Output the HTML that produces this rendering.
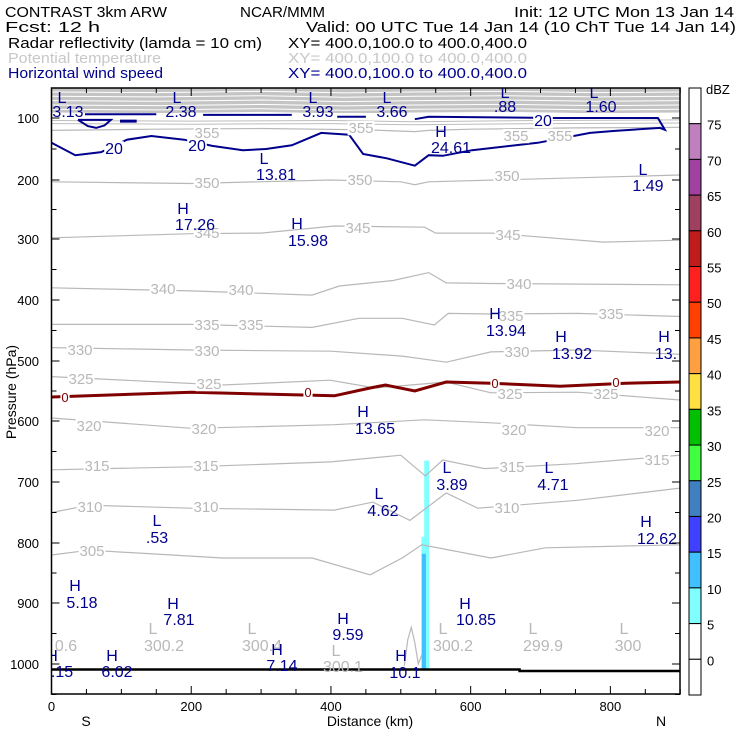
<!DOCTYPE html>
<html><head><meta charset="utf-8"><style>
html,body{margin:0;padding:0;background:#fff;}
svg{display:block;font-family:"Liberation Sans",sans-serif;}
</style></head><body>
<svg id="chart" width="740" height="740" viewBox="0 0 740 740" xmlns="http://www.w3.org/2000/svg">
<g font-size="15">
<text x="5" y="17" textLength="162" lengthAdjust="spacingAndGlyphs">CONTRAST  3km ARW</text>
<text x="240" y="17" textLength="85" lengthAdjust="spacingAndGlyphs">NCAR/MMM</text>
<text x="514" y="17" textLength="220" lengthAdjust="spacingAndGlyphs">Init: 12 UTC Mon 13 Jan 14</text>
<text x="5" y="32" textLength="95" lengthAdjust="spacingAndGlyphs">Fcst:   12 h</text>
<text x="306" y="32" textLength="430" lengthAdjust="spacingAndGlyphs">Valid: 00 UTC Tue 14 Jan 14 (10 ChT Tue 14 Jan 14)</text>
<text x="8" y="48" textLength="254" lengthAdjust="spacingAndGlyphs">Radar reflectivity (lamda = 10 cm)</text>
<text x="288" y="48" textLength="239" lengthAdjust="spacingAndGlyphs">XY= 400.0,100.0 to 400.0,400.0</text>
<text x="8" y="63" fill="#c8c8c8" textLength="153" lengthAdjust="spacingAndGlyphs">Potential temperature</text>
<text x="288" y="63" fill="#c8c8c8" textLength="239" lengthAdjust="spacingAndGlyphs">XY= 400.0,100.0 to 400.0,400.0</text>
<text x="8" y="78" fill="#00008c" textLength="155" lengthAdjust="spacingAndGlyphs">Horizontal wind speed</text>
<text x="288" y="78" fill="#00008c" textLength="239" lengthAdjust="spacingAndGlyphs">XY= 400.0,100.0 to 400.0,400.0</text>
</g>
<g id="plot"></g>
</svg>
<script>
// ---- axis data ----
const xTickKm = [0,200,400,600,800];
const yTickP = [100,200,300,400,500,600,700,800,900,1000];
const yTickPx = [118,180,239,300,361,421,482,543,603,664]; // pressure axis calibration
// ---- potential temperature contours (km, hPa) ----
const thetaLevels = [355,350,345,340,335,330,325,320,315,310,305];
const thetaKm = {
355:[0,150,300,450,520,540,600,750,900],
350:[0,200,400,500,520,540,700,900],
345:[0,200,300,405,534,550,630,790,900],
340:[0,200,373,412,489,540,565,629,900],
335:[0,200,373,440,502,548,568,629,753,900],
330:[0,200,400,502,565,629,753,900],
325:[0,245,399,463,565,629,753,900],
320:[0,200,405,534,629,753,900],
315:[0,200,400,500,535,560,620,750,900],
310:[0,54,200,405,460,513,565,610,753,900],
305:[0,54,245,373,456,502,530,629,707,900]};
const thetaP = {
355:[120,118,117,119,122,120,118,116,115],
350:[203,206,200,203,208,203,198,192],
345:[298,291,290,278,280,290,290,305,302],
340:[380,385,392,377,368,355,372,373,375],
335:[440,440,445,430,430,441,422,423,422,427],
330:[478,482,484,492,502,485,482,489],
325:[526,540,532,545,535,553,552,565],
320:[595,612,606,598,603,611,611],
315:[680,675,667,656,690,664,678,670,656],
310:[750,738,743,746,733,763,718,743,730,710],
305:[820,812,825,825,853,825,803,825,808,803]};
// ---- freezing level (0 C) ----
const frzKm = [0,200,300,405,456,478,520,565,629,728,822,900];
const frzP  = [560,552,555,558,545,540,550,535,537,542,537,535];
// ---- 20 m/s wind speed contour ----
const windKm = [0,34,71,108,143,190,230,274,307,344,386,426,446,480,520,540,560,602,696,771,804,871,878,868,724,540,520];
const windP  = [140,160,155,135,129,135,145,152,150,144,124,127,158,165,177,160,161,152,140,124,121,116,119,100,100,98,102];
const windSegKm = [[48,150],[217,344],[409,450]];
const windSegP = [94,95,98];
// ---- radar reflectivity cells (km, top hPa, bottom hPa, dBZ) ----
const reflKm  = [537,534,533];
const reflW   = [7,9,6];
const reflTop = [665,790,818];
const reflBot = [1010,1010,1010];
const reflDbz = [7,7,12];
// ---- colour bar ----
const cbLevels = [75,70,65,60,55,50,45,40,35,30,25,20,15,10,5,0];
const cbColors = ["#ffffff","#c080c0","#a040a0","#a04060","#c01c1c","#ff2020","#ff4000","#ffa040","#ffe040","#00c000","#40ff40","#4080c0","#4040ff","#40c0ff","#80ffff","#ffffff","#ffffff"];
// ---- H/L labels (text) ----
const hlLabels = [
["L","3.13",62,97,68,111],["L","2.38",177,97,181,111],["L","3.93",313,97,318,111],["L","3.66",387,97,392,111],
["L",".88",505,92,505,106],["L","1.60",594,92,601,106],["H","24.61",441,131,451,147],["L","13.81",264,158,276,174],
["L","1.49",643,169,648,185],["H","17.26",183,208,195,224],["H","15.98",297,223,308,240],["H","13.94",495,313,506,330],
["H","13.92",561,336,572,353],["H","13.",664,336,666,353],["H","13.65",363,411,375,428],["L","3.89",447,467,452,484],
["L","4.71",549,467,553,484],["L","4.62",379,493,383,510],["L",".53",157,520,157,537],["H","12.62",646,521,657,538],
["H","5.18",75,585,82,602],["H","7.81",173,603,179,619],["H","9.59",343,618,348,634],["H","10.85",465,603,476,619],
["H","7.14",277,649,282,665],["H","6.02",112,655,117,671],["H","10.1",401,655,405,672],["H",".15",52,655,62,671]];
const sfcLabels = [["","0.6",0,0,66,645],["L","300.2",153,628,164,645],["L","300.4",252,628,262,645],["L","300.1",336,650,343,666],
["L","300.2",443,628,453,645],["L","299.9",533,628,543,645],["L","300",624,628,628,645]];
const thetaLab = [[355,207,133],[355,361,128],[355,516,136],[355,560,136],[350,207,183],[350,360,180],[350,507,176],
[345,207,233],[345,358,228],[345,508,235],[340,163,289],[340,241,290],[340,519,284],[335,207,325],[335,251,325],[335,511,316],[335,611,314],
[330,80,350],[330,207,351],[330,517,352],[325,81,379],[325,209,384],[325,510,394],[325,606,394],[320,89,426],[320,204,429],[320,514,430],[320,657,431],
[315,97,466],[315,206,466],[315,512,467],[315,657,460],[310,90,507],[310,206,507],[310,507,508],[305,92,551]];

// ---- scales ----
const X0=51.5, KX=0.6986, XL=51.5, XR=680, YT=88, YB=694;
function xs(km){return X0+km*KX;}
function ys(p){
  if(p<=yTickP[0]) return yTickPx[0]+(p-yTickP[0])*0.62;
  for(let i=1;i<yTickP.length;i++){ if(p<=yTickP[i]){const t=(p-yTickP[i-1])/(yTickP[i]-yTickP[i-1]);return yTickPx[i-1]+t*(yTickPx[i]-yTickPx[i-1]);} }
  return yTickPx[yTickPx.length-1]+(p-1000)*0.61;
}
const NS="http://www.w3.org/2000/svg";
const plot=document.getElementById('plot');
function mk(tag,attrs,parent){const e=document.createElementNS(NS,tag);for(const k in attrs)e.setAttribute(k,attrs[k]);(parent||plot).appendChild(e);return e;}
function path(kms,ps){return kms.map((k,i)=>(i?'L':'M')+xs(k).toFixed(1)+','+ys(ps[i]).toFixed(1)).join(' ');}

// clip
const defs=mk('defs',{});
const cp=mk('clipPath',{id:'pc'},defs);mk('rect',{x:XL,y:YT,width:XR-XL,height:YB-YT},cp);
const g=mk('g',{'clip-path':'url(#pc)'});



// upper dense theta band
const band=mk('rect',{x:XL,y:YT,width:XR-XL,height:25,fill:'#c4c4c4'},g);


const bandP=[58,65,72,79,86,92];
bandP.forEach((p,i)=>{
  const l=mk('path',{d:path([0,150,300,420,520,650,780,900],[p,p+1,p-1,p+1.5,p,p-1,p+1,p]),stroke:'#ffffff','stroke-width':1,fill:'none'},g);
  
  
});
[104,109].forEach((p,i)=>{
  const l=mk('path',{d:path([0,200,400,520,700,900],[p,p+1,p,p+2,p,p-1]),stroke:'#bdbdbd','stroke-width':1,fill:'none'},g);
  
  
});

// reflectivity
reflKm.forEach((k,i)=>{
  let c=cbColors[cbColors.length-2];
  for(let j=0;j<cbLevels.length;j++){ if(reflDbz[i]>=cbLevels[j]){c=cbColors[j];break;} }
  const r=mk('rect',{x:xs(k)-reflW[i]*KX/2,y:ys(reflTop[i]),width:reflW[i]*KX,height:ys(reflBot[i])-ys(reflTop[i]),fill:c},g);
  
  
});

// theta contours
thetaLevels.forEach(lv=>{
  const l=mk('path',{d:path(thetaKm[lv],thetaP[lv]),stroke:'#b8b8b8','stroke-width':1.2,fill:'none'},g);
  
  
});
// surface theta wiggle
const wg=mk('path',{d:path([505,510,515,520,525,530],[1003,960,940,965,1000,985]),stroke:'#b8b8b8','stroke-width':1.2,fill:'none'},g);



// freezing level
const fl=mk('path',{d:path(frzKm,frzP),stroke:'#800000','stroke-width':3,fill:'none'},g);



// wind contour
const wl=mk('path',{d:path(windKm,windP),stroke:'#00008c','stroke-width':2,fill:'none'},g);


windSegKm.forEach((s,i)=>{
  const l=mk('path',{d:path(s,[windSegP[i],windSegP[i]]),stroke:'#00008c','stroke-width':2,fill:'none'},g);
  
  
});
const loop=mk('path',{d:path([38,52,64,76,85,38],[103,113,116,112,103,103]),stroke:'#00008c','stroke-width':2,fill:'none'},g);


const blob=mk('path',{d:path([98,122],[105,105]),stroke:'#00008c','stroke-width':3,fill:'none'},g);



// surface line
const sl=mk('path',{d:'M'+XL+','+ys(1009)+' L'+xs(670)+','+ys(1009)+' L'+xs(670)+','+(ys(1009)+1.5)+' L'+XR+','+(ys(1009)+1.5),stroke:'#000','stroke-width':2.5,fill:'none'},g);



// labels with white backgrounds
function lab(txt,x,y,col,fs,bg,name){
  if(bg){const w=txt.length*fs*0.55;const r=mk('rect',{x:x-w/2-1,y:y-fs*0.8,width:w+2,height:fs*0.95,fill:'#fff'},g);
    
    }
  const t=mk('text',{x:x,y:y,fill:col,'font-size':fs,'text-anchor':'middle'},g);t.textContent=txt;
  
  
}
thetaLab.forEach(a=>lab(String(a[0]),a[1],a[2]+5,'#b8b8b8',15,true,'theta-label-'+a[0]));
[[65,397],[308,392],[495,383],[616,382]].forEach(a=>lab('0',a[0],a[1]+5,'#800000',13,true,'freezing-label'));
[[114,148],[197,145],[543,120]].forEach(a=>lab('20',a[0],a[1]+6,'#00008c',16,true,'wind-label'));
sfcLabels.forEach(a=>{ if(a[0]) lab(a[0],a[2],a[3]+6,'#b8b8b8',16,false,'surface-theta-mark'); lab(a[1],a[4],a[5]+6,'#b8b8b8',16,false,'surface-theta-value');});
hlLabels.forEach(a=>{ lab(a[0],a[2],a[3]+6,'#00008c',16,false,'hl-marker-'+a[0]); lab(a[1],a[4],a[5]+6,'#00008c',16,false,'hl-value');});

// frame
const fr=mk('rect',{x:XL,y:YT,width:XR-XL,height:YB-YT,fill:'none',stroke:'#000','stroke-width':1.5});


// y ticks
for(let p=100;p<=1050;p+=50){
  const y=ys(p),L=(p%100===0)?8:5;
  const t1=mk('line',{x1:XL,x2:XL+L,y1:y,y2:y,stroke:'#000','stroke-width':1});
  
  
  const t2=mk('line',{x1:XR-L,x2:XR,y1:y,y2:y,stroke:'#000','stroke-width':1});
  
  
}
yTickP.forEach(p=>{
  const t=mk('text',{x:39,y:ys(p)+5,'font-size':13,'text-anchor':'end'});t.textContent=p;
  
  
});
for(let k=0;k<=900;k+=50){
  const x=xs(k),L=(k%200===0)?8:5;
  const t1=mk('line',{x1:x,x2:x,y1:YB,y2:YB-L,stroke:'#000','stroke-width':1});
  
  
  const t2=mk('line',{x1:x,x2:x,y1:YT,y2:YT+L,stroke:'#000','stroke-width':1});
  
  
}
xTickKm.forEach(k=>{
  const t=mk('text',{x:xs(k),y:711,'font-size':13,'text-anchor':'middle'});t.textContent=k;
  
  
});
const xt=mk('text',{x:370,y:726,'font-size':14,'text-anchor':'middle'});xt.textContent='Distance (km)';


const sT=mk('text',{x:86,y:726,'font-size':14,'text-anchor':'middle'});sT.textContent='S';


const nT=mk('text',{x:661,y:726,'font-size':14,'text-anchor':'middle'});nT.textContent='N';


const yt=mk('text',{x:0,y:0,'font-size':14,'text-anchor':'middle',transform:'translate(16,392) rotate(-90)'});yt.textContent='Pressure (hPa)';



// colour bar
const cbTop=88, cbH=(695-88)/cbColors.length, cbX=689, cbW=12;
cbColors.forEach((c,i)=>{
  const r=mk('rect',{x:cbX,y:cbTop+i*cbH,width:cbW,height:cbH,fill:c,stroke:'#000','stroke-width':1});
  
  
});
cbLevels.forEach((v,i)=>{
  const t=mk('text',{x:707,y:cbTop+(i+1)*cbH+6,'font-size':13});t.textContent=v;
  
  
});
const du=mk('text',{x:706,y:94,'font-size':13});du.textContent='dBZ';


</script>
</body></html>
